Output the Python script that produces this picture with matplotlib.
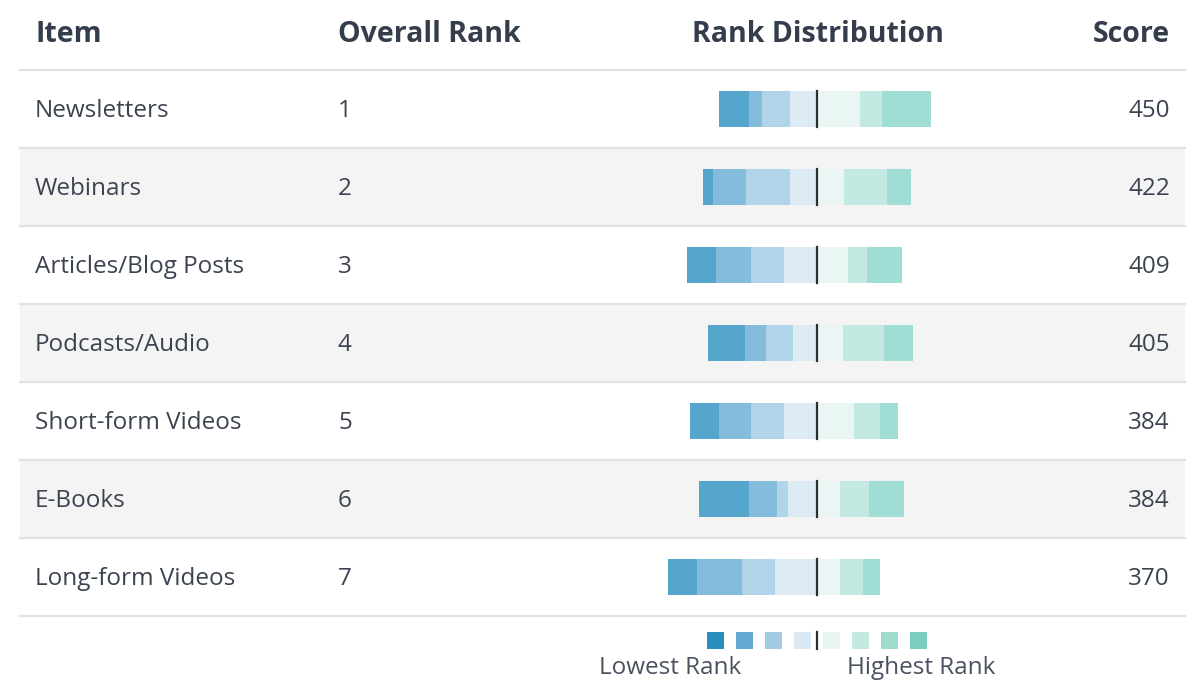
import matplotlib.pyplot as plt
from matplotlib.patches import Rectangle

plt.rcParams['font.family'] = ['Open Sans', 'DejaVu Sans']

# ---- data ----
items = ["Newsletters", "Webinars", "Articles/Blog Posts", "Podcasts/Audio",
         "Short-form Videos", "E-Books", "Long-form Videos"]
overall_rank = [1, 2, 3, 4, 5, 6, 7]
scores = [450, 422, 409, 405, 384, 384, 370]

# share of respondents (%) giving each rank
rank_1 = [23.5, 11.6, 16.8, 13.7, 8.6, 17.0, 8.0]
rank_2 = [10.3, 20.3, 9.2, 19.7, 12.4, 13.5, 11.1]
rank_3 = [20.6, 13.0, 14.6, 12.4, 17.5, 11.1, 10.8]
rank_4 = [12.7, 12.7, 15.9, 11.6, 15.9, 13.8, 19.9]
rank_5 = [13.5, 21.0, 15.6, 12.5, 15.6, 5.2, 15.9]
rank_6 = [6.0, 15.6, 16.7, 10.3, 15.4, 13.2, 21.4]
rank_7 = [14.6, 5.1, 13.5, 17.6, 13.8, 24.1, 13.8]

headers = ["Item", "Overall Rank", "Rank Distribution", "Score"]
legend_low = "Lowest Rank"
legend_high = "Highest Rank"

# legend palette: lowest rank (dark blue) -> highest rank (teal)
palette = ['#2b8cbe', '#62a8d1', '#a3cbe4', '#dbe9f5',
           '#e8f6f3', '#c3e9e1', '#9edbcf', '#7ccec0']
# bar colours (rank 7 ... rank 1)
bar_colors = ['#55a5cc', '#84bcdb', '#b0d5e8', '#dcebf4',
              '#e9f6f4', '#c4e9e3', '#a0ddd4']

# ---- layout (pixels) ----
W, H = 1200, 700
head_h = 70
row_h = 78
x_left, x_right = 20, 1185
x_item, x_rank, x_score = 35, 338, 1170
x_center = 817
px_per_pct = 2.1
head_col = '#333d4b'
body_col = '#3c4350'
line_col = '#e2e2e2'

fig = plt.figure(figsize=(12, 7), dpi=100)
fig.patch.set_facecolor('white')

tab = fig.add_axes([0, 0, 1, 1])
tab.set_xlim(0, W)
tab.set_ylim(H, 0)
tab.axis('off')

n = len(items)

# striped row backgrounds and separators
for i in range(n):
    top = head_h + i * row_h
    if i % 2 == 1:
        tab.add_patch(Rectangle((x_left, top), x_right - x_left, row_h,
                                facecolor='#f4f4f4', edgecolor='none', zorder=0))
for i in range(n + 1):
    y = head_h + i * row_h
    tab.plot([x_left, x_right], [y, y], color=line_col, lw=1.6, zorder=1)

# header
hy = 35
hfs = 20.5
tab.text(x_item, hy, headers[0], ha='left', va='center', fontsize=hfs,
         fontweight='bold', color=head_col)
tab.text(x_rank, hy, headers[1], ha='left', va='center', fontsize=hfs,
         fontweight='bold', color=head_col)
tab.text(x_center + 1, hy, headers[2], ha='center', va='center', fontsize=hfs,
         fontweight='bold', color=head_col)
tab.text(x_score, hy, headers[3], ha='right', va='center', fontsize=hfs,
         fontweight='bold', color=head_col)

# body text
bfs = 17.5
for i in range(n):
    yc = head_h + (i + 0.5) * row_h + 2
    tab.text(x_item, yc, items[i], ha='left', va='center', fontsize=bfs, color=body_col)
    tab.text(x_rank, yc, str(overall_rank[i]), ha='left', va='center', fontsize=bfs,
             color=body_col)
    tab.text(x_score, yc, str(scores[i]), ha='right', va='center', fontsize=bfs,
             color=body_col)

# ---- diverging stacked bars ----
bar_ax = fig.add_axes([(x_center - 200) / W, 1 - (head_h + n * row_h) / H,
                       400 / W, n * row_h / H])
bar_ax.set_xlim(-200 / px_per_pct, 200 / px_per_pct)
bar_ax.set_ylim(n - 0.5, -0.5)
bar_ax.axis('off')
bar_ax.patch.set_visible(False)

ypos = list(range(n))
bar_h = 36 / row_h

# lower ranks to the left (rank 4 next to centre, rank 7 outermost)
left_side = [rank_4, rank_5, rank_6, rank_7]
left_cols = [bar_colors[3], bar_colors[2], bar_colors[1], bar_colors[0]]
start = [0.0] * n
for vals, col in zip(left_side, left_cols):
    bar_ax.barh(ypos, [-v for v in vals], left=start, height=bar_h, color=col,
                edgecolor='none')
    start = [s - v for s, v in zip(start, vals)]

# higher ranks to the right (rank 3 next to centre, rank 1 outermost)
right_side = [rank_3, rank_2, rank_1]
right_cols = [bar_colors[4], bar_colors[5], bar_colors[6]]
start = [0.0] * n
for vals, col in zip(right_side, right_cols):
    bar_ax.barh(ypos, vals, left=start, height=bar_h, color=col, edgecolor='none')
    start = [s + v for s, v in zip(start, vals)]

for y in ypos:
    bar_ax.plot([0, 0], [y - bar_h / 2, y + bar_h / 2], color='#2b2f33', lw=1.6)

# ---- legend ----
sq = 17.5
step = 29
ly = 640.5
offsets = [-3.5, -2.5, -1.5, -0.5, 0.5, 1.5, 2.5, 3.5]
for off, col in zip(offsets, palette):
    cx = x_center + off * step
    tab.add_patch(Rectangle((cx - sq / 2, ly - sq / 2), sq, sq, facecolor=col,
                            edgecolor='none', zorder=2))
tab.plot([x_center, x_center], [ly - sq / 2, ly + sq / 2], color='#2b2f33', lw=1.6)
tab.text(670, 668, legend_low, ha='center', va='center', fontsize=bfs, color='#4a5260')
tab.text(921, 668, legend_high, ha='center', va='center', fontsize=bfs, color='#4a5260')

fig.savefig('out.png', dpi=100)
